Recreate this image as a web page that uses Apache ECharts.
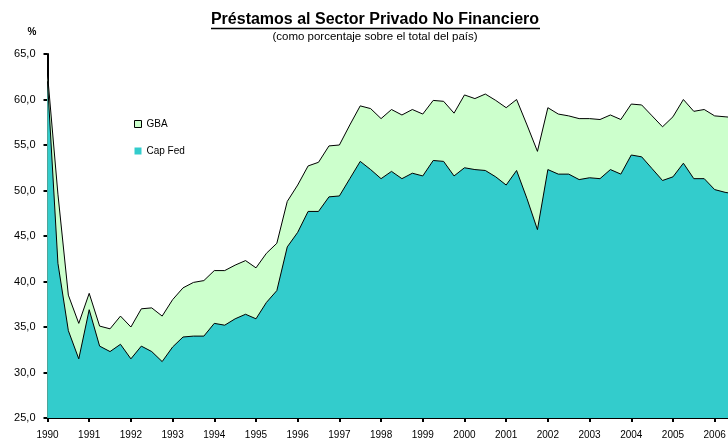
<!DOCTYPE html>
<html>
<head>
<meta charset="utf-8">
<script src="https://cdn.jsdelivr.net/npm/echarts@6/dist/echarts.min.js"></script>
<style>
  html, body { margin: 0; padding: 0; background: #fff; }
  #chart { width: 728px; height: 439px; }
</style>
</head>
<body>
<div id="chart"></div>
<script>
// años del eje x (datos trimestrales, 1990-I a 2006-III)
var years = [1990, 1991, 1992, 1993, 1994, 1995, 1996, 1997, 1998, 1999, 2000, 2001, 2002, 2003, 2004, 2005, 2006]
var quarterNames = ['I', 'II', 'III', 'IV']

// linea superior (GBA + Cap Fed), % del total del pais
var gbaTop = [
  62.8, 49.6, 38.5, 35.4, 38.7, 35.1, 34.8, 36.2,
  35.0, 37.0, 37.1, 36.2, 38.0, 39.3, 39.9, 40.1,
  41.2, 41.2, 41.8, 42.3, 41.5, 43.1, 44.2, 48.8,
  50.6, 52.7, 53.1, 54.9, 55.0, 57.2, 59.3, 59.0,
  57.9, 58.9, 58.3, 58.9, 58.4, 59.9, 59.8, 58.5,
  60.5, 60.1, 60.6, 59.9, 59.1, 60.0, 57.2, 54.3,
  59.1, 58.4, 58.2, 57.9, 57.9, 57.8, 58.3, 57.8,
  59.5, 59.4, 58.2, 57.0, 58.1, 60.0, 58.7, 58.9,
  58.2, 58.1, 58.0
]

// Capital Federal
var capFed = [
  62.0, 42.0, 34.6, 31.5, 36.9, 32.9, 32.3, 33.1,
  31.5, 32.9, 32.3, 31.2, 32.8, 33.9, 34.0, 34.0,
  35.4, 35.2, 35.9, 36.4, 35.9, 37.7, 39.0, 43.8,
  45.4, 47.7, 47.7, 49.3, 49.4, 51.3, 53.2, 52.3,
  51.3, 52.1, 51.3, 51.9, 51.6, 53.3, 53.2, 51.6,
  52.5, 52.3, 52.2, 51.5, 50.6, 52.2, 49.1, 45.7,
  52.3, 51.8, 51.8, 51.2, 51.4, 51.3, 52.3, 51.8,
  53.9, 53.7, 52.4, 51.1, 51.5, 53.0, 51.3, 51.3,
  50.1, 49.8, 49.6
]

var quarters = []
years.forEach(function (y) {
  quarterNames.forEach(function (q) {
    quarters.push(y + '-' + q)
  })
})
quarters = quarters.slice(0, capFed.length)

var fontFam = 'Liberation Sans, Arial, sans-serif'

var chart = echarts.init(document.getElementById('chart'))
var option = {
  backgroundColor: '#fff',
  animation: false,
  title: {
    text: 'Préstamos al Sector Privado No Financiero',
    subtext: '(como porcentaje sobre el total del país)',
    left: 375,
    top: 12,
    padding: 0,
    textAlign: 'center',
    itemGap: 3,
    textStyle: { fontFamily: fontFam, fontSize: 16, fontWeight: 'bold', color: '#000' },
    subtextStyle: { fontFamily: fontFam, fontSize: 11.5, color: '#000' }
  },
  legend: {
    orient: 'vertical',
    left: 134,
    top: 119,
    padding: 0,
    itemWidth: 7,
    itemHeight: 7,
    itemGap: 17,
    icon: 'rect',
    selectedMode: false,
    textStyle: { fontFamily: fontFam, fontSize: 10, color: '#000' },
    data: [
      { name: 'GBA', itemStyle: { color: '#CCFFCC', borderColor: '#000', borderWidth: 1 } },
      { name: 'Cap Fed', itemStyle: { color: '#33CCCC', borderWidth: 0 } }
    ]
  },
  grid: {
    left: 47.5,
    top: 54,
    width: 688,
    bottom: 21,
    outerBoundsMode: 'none',
    containLabel: false
  },
  xAxis: {
    type: 'category',
    data: quarters,
    boundaryGap: false,
    axisLine: { lineStyle: { color: '#000', width: 2 } },
    axisTick: { interval: 3, length: 4, lineStyle: { color: '#000', width: 2 } },
    axisLabel: {
      interval: 3,
      margin: 12,
      fontFamily: fontFam,
      fontSize: 10,
      color: '#000',
      formatter: function (v) { return v.split('-')[0] }
    },
    splitLine: { show: false }
  },
  yAxis: {
    type: 'value',
    min: 25,
    max: 65,
    interval: 5,
    name: '%',
    nameLocation: 'end',
    nameGap: 17,
    nameTextStyle: { fontFamily: fontFam, fontSize: 10, fontWeight: 'bold', color: '#000', align: 'right', padding: [0, 11, 0, 0] },
    axisLine: { show: true, lineStyle: { color: '#000', width: 2 } },
    axisTick: { show: true, length: 4, lineStyle: { color: '#000', width: 2 } },
    axisLabel: {
      margin: 12,
      fontFamily: fontFam,
      fontSize: 11,
      color: '#000',
      formatter: function (v) { return v.toFixed(1).replace('.', ',') }
    },
    splitLine: { show: false }
  },
  series: [
    {
      name: 'GBA',
      type: 'line',
      data: gbaTop,
      symbol: 'none',
      itemStyle: { color: '#CCFFCC' },
      lineStyle: { color: '#000', width: 1 },
      areaStyle: { color: '#CCFFCC', opacity: 1, origin: 'start' },
      z: 2
    },
    {
      name: 'Cap Fed',
      type: 'line',
      data: capFed,
      symbol: 'none',
      itemStyle: { color: '#33CCCC' },
      lineStyle: { color: '#000', width: 1 },
      areaStyle: { color: '#33CCCC', opacity: 1, origin: 'start' },
      z: 3
    }
  ],
  graphic: [
    {
      // subrayado del titulo
      type: 'line',
      shape: { x1: 211, y1: 28.5, x2: 540, y2: 28.5 },
      style: { stroke: '#000', lineWidth: 1.5 },
      z: 10
    }
  ]
}
chart.setOption(option)
</script>
</body>
</html>
